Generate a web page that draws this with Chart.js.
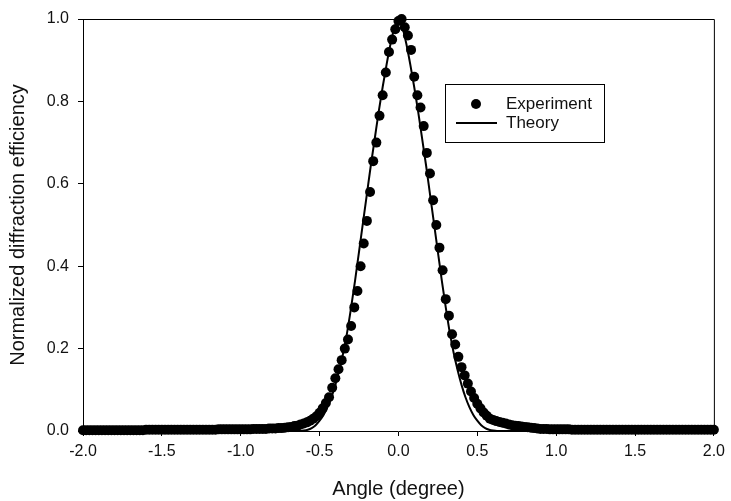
<!DOCTYPE html>
<html>
<head>
<meta charset="utf-8">
<script src="https://cdn.jsdelivr.net/npm/chart.js@4.4.1/dist/chart.umd.min.js"></script>
<style>
  html, body { margin: 0; padding: 0; background: #fff; }
  #wrap { width: 731px; height: 501px; position: relative; }
</style>
</head>
<body>
<div id="wrap"><canvas id="diffChart"></canvas></div>
<script>
// ---- DATA ----
const experimentX = [
  -2.00, -1.98, -1.96, -1.94, -1.92, -1.90, -1.88, -1.86, -1.84, -1.82,
  -1.80, -1.78, -1.76, -1.74, -1.72, -1.70, -1.68, -1.66, -1.64, -1.62,
  -1.60, -1.58, -1.56, -1.54, -1.52, -1.50, -1.48, -1.46, -1.44, -1.42,
  -1.40, -1.38, -1.36, -1.34, -1.32, -1.30, -1.28, -1.26, -1.24, -1.22,
  -1.20, -1.18, -1.16, -1.14, -1.12, -1.10, -1.08, -1.06, -1.04, -1.02,
  -1.00, -0.98, -0.96, -0.94, -0.92, -0.90, -0.88, -0.86, -0.84, -0.82,
  -0.80, -0.78, -0.76, -0.74, -0.72, -0.70, -0.68, -0.66, -0.64, -0.62,
  -0.60, -0.58, -0.56, -0.54, -0.52, -0.50, -0.48, -0.46, -0.44, -0.42,
  -0.40, -0.38, -0.36, -0.34, -0.32, -0.30, -0.28, -0.26, -0.24, -0.22,
  -0.20, -0.18, -0.16, -0.14, -0.12, -0.10, -0.08, -0.06, -0.04, -0.02,
  0.00, 0.02, 0.04, 0.06, 0.08, 0.10, 0.12, 0.14, 0.16, 0.18,
  0.20, 0.22, 0.24, 0.26, 0.28, 0.30, 0.32, 0.34, 0.36, 0.38,
  0.40, 0.42, 0.44, 0.46, 0.48, 0.50, 0.52, 0.54, 0.56, 0.58,
  0.60, 0.62, 0.64, 0.66, 0.68, 0.70, 0.72, 0.74, 0.76, 0.78,
  0.80, 0.82, 0.84, 0.86, 0.88, 0.90, 0.92, 0.94, 0.96, 0.98,
  1.00, 1.02, 1.04, 1.06, 1.08, 1.10, 1.12, 1.14, 1.16, 1.18,
  1.20, 1.22, 1.24, 1.26, 1.28, 1.30, 1.32, 1.34, 1.36, 1.38,
  1.40, 1.42, 1.44, 1.46, 1.48, 1.50, 1.52, 1.54, 1.56, 1.58,
  1.60, 1.62, 1.64, 1.66, 1.68, 1.70, 1.72, 1.74, 1.76, 1.78,
  1.80, 1.82, 1.84, 1.86, 1.88, 1.90, 1.92, 1.94, 1.96, 1.98,
  2.00
];
const experimentY = [
  0.002, 0.002, 0.002, 0.002, 0.002, 0.002, 0.002, 0.002, 0.002, 0.002,
  0.002, 0.002, 0.002, 0.002, 0.002, 0.002, 0.002, 0.002, 0.002, 0.002,
  0.003, 0.003, 0.003, 0.003, 0.003, 0.003, 0.003, 0.003, 0.003, 0.003,
  0.003, 0.003, 0.003, 0.003, 0.003, 0.003, 0.003, 0.003, 0.003, 0.003,
  0.003, 0.003, 0.003, 0.004, 0.004, 0.004, 0.004, 0.004, 0.004, 0.004,
  0.004, 0.004, 0.004, 0.004, 0.005, 0.005, 0.005, 0.005, 0.005, 0.006,
  0.006, 0.006, 0.007, 0.007, 0.008, 0.009, 0.010, 0.012, 0.013, 0.016,
  0.018, 0.021, 0.025, 0.030, 0.036, 0.044, 0.055, 0.068, 0.082, 0.105,
  0.128, 0.150, 0.172, 0.200, 0.222, 0.255, 0.300, 0.340, 0.400, 0.455,
  0.510, 0.580, 0.655, 0.700, 0.765, 0.815, 0.870, 0.920, 0.950, 0.975,
  0.995, 1.000, 0.980, 0.960, 0.925, 0.860, 0.815, 0.785, 0.740, 0.675,
  0.625, 0.560, 0.500, 0.445, 0.390, 0.320, 0.280, 0.235, 0.210, 0.180,
  0.155, 0.135, 0.115, 0.096, 0.080, 0.066, 0.055, 0.045, 0.037, 0.030,
  0.027, 0.024, 0.022, 0.020, 0.018, 0.016, 0.014, 0.013, 0.012, 0.011,
  0.010, 0.009, 0.008, 0.007, 0.006, 0.005, 0.005, 0.005, 0.004, 0.004,
  0.004, 0.004, 0.004, 0.004, 0.004, 0.003, 0.003, 0.003, 0.003, 0.003,
  0.003, 0.003, 0.003, 0.003, 0.003, 0.003, 0.003, 0.003, 0.003, 0.003,
  0.003, 0.003, 0.003, 0.003, 0.003, 0.003, 0.003, 0.003, 0.003, 0.003,
  0.003, 0.003, 0.003, 0.003, 0.003, 0.003, 0.003, 0.003, 0.003, 0.003,
  0.003, 0.003, 0.003, 0.003, 0.003, 0.003, 0.003, 0.003, 0.003, 0.003,
  0.003
];

const theoryX = [
  -2.0, -0.7, -0.675, -0.65, -0.625, -0.6, -0.575, -0.55, -0.525, -0.5,
  -0.475, -0.45, -0.425, -0.4, -0.375, -0.35, -0.325, -0.3, -0.275, -0.25,
  -0.225, -0.2, -0.175, -0.15, -0.125, -0.1, -0.075, -0.05, -0.025, 0.0,
  0.025, 0.05, 0.075, 0.1, 0.125, 0.15, 0.175, 0.2, 0.225, 0.25,
  0.275, 0.3, 0.325, 0.35, 0.375, 0.4, 0.425, 0.45, 0.475, 0.5,
  0.525, 0.55, 0.575, 0.6, 0.625, 0.65, 0.675, 0.7, 2.0
];
const theoryY = [
  0, 0, 0, 0, 0, 0.001, 0.003, 0.007, 0.014, 0.025,
  0.039, 0.058, 0.082, 0.112, 0.148, 0.190, 0.240, 0.300, 0.365, 0.435,
  0.505, 0.575, 0.645, 0.710, 0.775, 0.835, 0.890, 0.940, 0.980, 1.000,
  0.980, 0.940, 0.890, 0.835, 0.775, 0.710, 0.645, 0.575, 0.505, 0.435,
  0.365, 0.300, 0.240, 0.190, 0.148, 0.112, 0.082, 0.058, 0.039, 0.025,
  0.014, 0.007, 0.003, 0.001, 0, 0, 0, 0, 0
];

const xTicks = [-2.0, -1.5, -1.0, -0.5, 0.0, 0.5, 1.0, 1.5, 2.0];
const yTicks = [0.0, 0.2, 0.4, 0.6, 0.8, 1.0];

const toPoints = (xs, ys) => xs.map((x, i) => ({ x, y: ys[i] }));

Chart.defaults.font.family = '"Liberation Sans", Arial, sans-serif';
Chart.defaults.color = '#111';

// box round the plot (top and right sides)
const framePlugin = {
  id: 'frame',
  afterDraw(chart) {
    const { ctx, chartArea: a } = chart;
    ctx.save();
    ctx.strokeStyle = '#000';
    ctx.lineWidth = 1;
    ctx.beginPath();
    ctx.moveTo(a.left, a.top + 0.5);
    ctx.lineTo(a.right + 0.5, a.top + 0.5);
    ctx.lineTo(a.right + 0.5, a.bottom);
    ctx.stroke();
    ctx.restore();
  }
};

// boxed legend inside the plot
const boxLegend = {
  id: 'boxLegend',
  afterDraw(chart) {
    const { ctx } = chart;
    const sets = chart.data.datasets;
    const bx = 445, by = 84, bw = 159, bh = 58;
    ctx.save();
    ctx.fillStyle = '#fff';
    ctx.fillRect(bx, by, bw, bh);
    ctx.strokeStyle = '#000';
    ctx.lineWidth = 1;
    ctx.strokeRect(bx + 0.5, by + 0.5, bw, bh);

    ctx.fillStyle = '#000';
    ctx.beginPath();
    ctx.arc(476, 104, 5, 0, Math.PI * 2);
    ctx.fill();

    ctx.lineWidth = 2;
    ctx.beginPath();
    ctx.moveTo(456, 123);
    ctx.lineTo(497, 123);
    ctx.stroke();

    ctx.font = '17px "Liberation Sans", Arial, sans-serif';
    ctx.textBaseline = 'middle';
    ctx.fillStyle = '#111';
    ctx.fillText(sets[0].label, 506, 104);
    ctx.fillText(sets[1].label, 506, 123);
    ctx.restore();
  }
};

new Chart(document.getElementById('diffChart'), {
  type: 'scatter',
  data: {
    datasets: [
      {
        label: 'Experiment',
        data: toPoints(experimentX, experimentY),
        pointRadius: 5,
        pointHoverRadius: 5,
        backgroundColor: '#000',
        borderWidth: 0,
        clip: false
      },
      {
        label: 'Theory',
        type: 'line',
        data: toPoints(theoryX, theoryY),
        borderColor: '#000',
        borderWidth: 2,
        pointRadius: 0,
        fill: false,
        cubicInterpolationMode: 'monotone',
        clip: false
      }
    ]
  },
  options: {
    responsive: true,
    maintainAspectRatio: false,
    animation: false,
    layout: { padding: { left: 0, right: 15, top: 19, bottom: 0 } },
    plugins: {
      legend: { display: false },
      tooltip: { enabled: false }
    },
    scales: {
      x: {
        type: 'linear',
        min: -2,
        max: 2,
        afterBuildTicks: scale => { scale.ticks = xTicks.map(v => ({ value: v })); },
        afterFit: scale => { scale.height = 70; },
        ticks: {
          padding: 6,
          font: { size: 16 },
          color: '#111',
          callback: val => val.toFixed(1)
        },
        grid: { drawOnChartArea: false, drawTicks: true, tickLength: 5, color: '#000' },
        border: { display: true, color: '#000', width: 1 },
        title: {
          display: true,
          text: 'Angle (degree)',
          font: { size: 20 },
          color: '#111',
          padding: { top: 0, bottom: 0 }
        }
      },
      y: {
        min: 0,
        max: 1,
        afterBuildTicks: scale => { scale.ticks = yTicks.map(v => ({ value: v })); },
        afterFit: scale => { scale.width = 83; },
        ticks: {
          padding: 9,
          font: { size: 16 },
          color: '#111',
          callback: val => val.toFixed(1)
        },
        grid: { drawOnChartArea: false, drawTicks: true, tickLength: 5, color: '#000' },
        border: { display: true, color: '#000', width: 1 },
        title: {
          display: true,
          text: 'Normalized diffraction efficiency',
          font: { size: 20 },
          color: '#111',
          padding: { top: 6, bottom: 0 }
        }
      }
    }
  },
  plugins: [framePlugin, boxLegend]
});
</script>
</body>
</html>
